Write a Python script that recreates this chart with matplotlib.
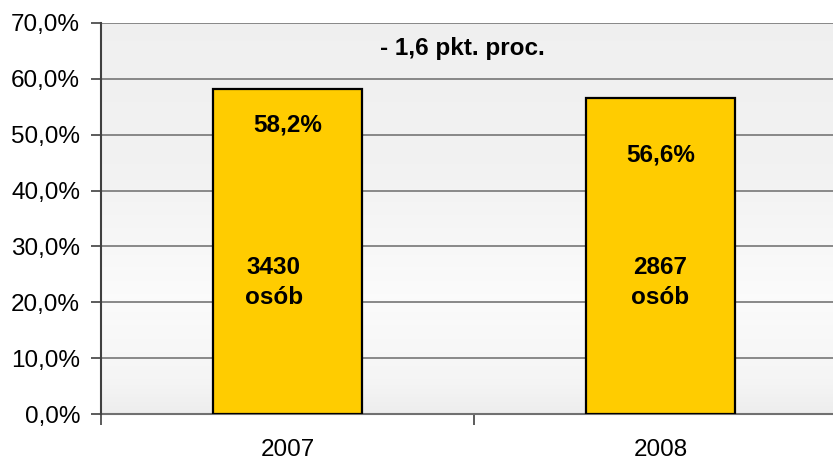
import numpy as np
import matplotlib
matplotlib.use("Agg")
import matplotlib.pyplot as plt
from matplotlib.ticker import FuncFormatter, FixedLocator

# *** DATA ***
years = ["2007", "2008"]
share_percent = [58.2, 56.6]
persons = [3430, 2867]

# *** STYLE ***
text_size = 17.5
color_bar = "#FFCC00"
color_grid = "#808080"
font = ["Liberation Sans", "DejaVu Sans"]
plt.rcParams["font.family"] = font


def pl_percent(v, pos=None):
    # polish decimal comma
    return f"{v:.1f}%".replace(".", ",")


fig = plt.figure(figsize=(8.33, 4.61), dpi=100, facecolor="white")
ax = fig.add_axes([101 / 833, 47 / 461, 746 / 833, 391 / 461])

x = np.arange(len(years))
ax.set_xlim(-0.5, len(years) - 0.5)
ax.set_ylim(0, 70)

# background gradient: grey at top, almost white lower, grey again at the bottom
stops_y = [0.0, 0.08, 0.3, 0.6, 1.0]
stops_c = [0.93, 0.96, 0.985, 0.95, 0.94]
yy = np.linspace(0, 1, 256)
shade = np.interp(yy, stops_y, stops_c)
grad = np.dstack([shade, shade, shade]).reshape(256, 1, 3)
ax.imshow(grad, extent=[-0.5, len(years) - 0.5, 0, 70], origin="lower",
          aspect="auto", zorder=0)

# grid lines
ax.yaxis.grid(True, color=color_grid, linewidth=1.3, zorder=1)
ax.set_axisbelow(True)

bars = ax.bar(x, share_percent, width=0.4, color=color_bar, edgecolor="black",
              linewidth=1.6, zorder=3)

# labels inside the bars
pct_label_y = [51.8, 46.4]
for i in range(len(years)):
    ax.text(x[i], pct_label_y[i], pl_percent(share_percent[i]), ha="center", va="center",
            fontsize=text_size, fontweight="bold", zorder=4)
people_x_shift = [-0.037, 0.0]
for i in range(len(years)):
    ax.text(x[i] + people_x_shift[i], 23.5, f"{persons[i]}\nosób", ha="center", va="center",
            fontsize=text_size, fontweight="bold", linespacing=1.4, zorder=4)

# change between years
diff = share_percent[1] - share_percent[0]
diff_text = f"- {abs(diff):.1f} pkt. proc.".replace(".", ",", 1)
ax.text(0.47, 65.5, diff_text, ha="center", va="center",
        fontsize=text_size, fontweight="bold", zorder=4)

# axes
ax.yaxis.set_major_locator(FixedLocator(np.arange(0, 71, 10)))
ax.yaxis.set_major_formatter(FuncFormatter(pl_percent))
ax.tick_params(axis="y", labelsize=text_size, length=7, width=1.2, color="#404040", pad=8)

ax.set_xticks(x)
ax.set_xticklabels(years)
ax.set_xticks(np.arange(-0.5, len(years)), minor=True)
ax.tick_params(axis="x", which="major", length=0, labelsize=text_size, pad=18)
ax.tick_params(axis="x", which="minor", length=8, width=1.2, color="#404040")

for side in ["top", "right"]:
    ax.spines[side].set_visible(False)
ax.spines["left"].set_color("#404040")
ax.spines["left"].set_linewidth(1.5)
ax.spines["bottom"].set_color("#707070")
ax.spines["bottom"].set_linewidth(1.5)
ax.spines["left"].set_zorder(5)

fig.savefig("out.png", dpi=100, facecolor="white")
